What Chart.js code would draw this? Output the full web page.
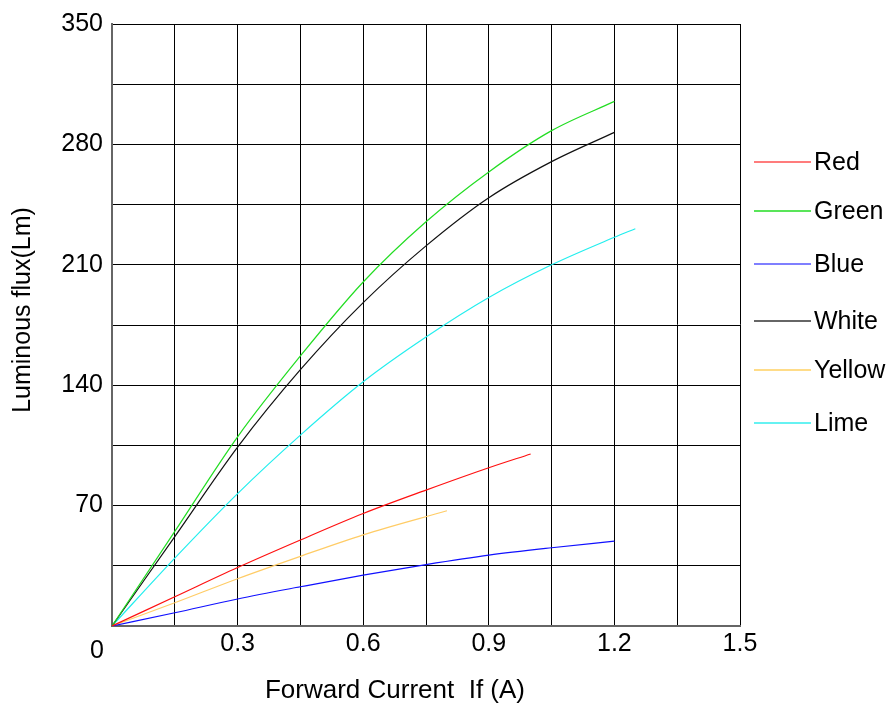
<!DOCTYPE html>
<html>
<head>
<meta charset="utf-8">
<script src="https://cdn.jsdelivr.net/npm/chart.js@4/dist/chart.umd.min.js"></script>
<style>
  html, body { margin: 0; padding: 0; background: #fff; }
  #wrap { width: 895px; height: 709px; }
</style>
</head>
<body>
<div id="wrap"><canvas id="c" width="895" height="709"></canvas></div>
<script>
// ---- Data ----
const seriesNames = ['Red', 'Green', 'Blue', 'White', 'Yellow', 'Lime'];

const redCurrent    = [0, 0.15, 0.3, 0.45, 0.6, 0.75, 0.9, 1.0];
const redFlux       = [0, 17, 34, 50, 65.4, 79, 92, 100];

const greenCurrent  = [0, 0.15, 0.3, 0.45, 0.6, 0.75, 0.9, 1.05, 1.2];
const greenFlux     = [0, 55, 110, 157, 200, 235, 264, 288, 305];

const blueCurrent   = [0, 0.15, 0.3, 0.45, 0.6, 0.75, 0.9, 1.05, 1.2];
const blueFlux      = [0, 7.7, 15.7, 22.8, 29.6, 35.7, 41.2, 45.5, 49.3];

const whiteCurrent  = [0, 0.15, 0.3, 0.45, 0.6, 0.75, 0.9, 1.05, 1.2];
const whiteFlux     = [0, 52, 104, 149, 188, 221, 249, 270, 287];

const yellowCurrent = [0, 0.15, 0.3, 0.45, 0.6, 0.8];
const yellowFlux    = [0, 13.5, 27.5, 40.5, 53, 67];

const limeCurrent   = [0, 0.15, 0.3, 0.45, 0.6, 0.75, 0.9, 1.05, 1.2, 1.25];
const limeFlux      = [0, 39.5, 77, 111, 142, 168, 191, 210, 226, 231];

const xTickLabels = ['0.3', '0.6', '0.9', '1.2', '1.5'];
const yTickLabels = ['70', '140', '210', '280', '350'];

const xTitle = 'Forward Current  If (A)';
const yTitle = 'Luminous flux(Lm)';

// ---- Helpers ----
function pts(xs, ys) { return xs.map((x, i) => ({ x: x, y: ys[i] })); }

const FONT = "'Liberation Sans', Arial, sans-serif";

const lineColors   = ['#ff1010', '#22dd22', '#1010ff', '#111111', '#ffcc66', '#22eeee'];
const legendColors = ['#ff5050', '#22dd22', '#5555ff', '#333333', '#ffd060', '#33eeee'];
const legendY      = [162, 211, 264, 321, 370, 423];

const dataSets = [
  pts(redCurrent, redFlux),
  pts(greenCurrent, greenFlux),
  pts(blueCurrent, blueFlux),
  pts(whiteCurrent, whiteFlux),
  pts(yellowCurrent, yellowFlux),
  pts(limeCurrent, limeFlux)
];

const datasets = seriesNames.map((n, i) => ({
  label: n,
  data: dataSets[i],
  borderColor: lineColors[i],
  backgroundColor: lineColors[i],
  borderWidth: 1.2,
  pointRadius: 0,
  fill: false,
  cubicInterpolationMode: 'monotone'
}));

const extras = {
  id: 'extras',
  afterDraw(chart) {
    const ctx = chart.ctx;
    ctx.save();
    ctx.fillStyle = '#000';
    // axis titles
    ctx.textAlign = 'center';
    ctx.textBaseline = 'middle';
    ctx.font = '26px ' + FONT;
    ctx.fillText(xTitle, 395, 691);
    ctx.save();
    ctx.font = '25px ' + FONT;
    ctx.translate(23, 310);
    ctx.rotate(-Math.PI / 2);
    ctx.fillText(yTitle, 0, 0);
    ctx.restore();
    // origin label
    ctx.font = '25px ' + FONT;
    ctx.fillText('0', 97, 651);
    // legend
    ctx.font = '25px ' + FONT;
    ctx.textAlign = 'left';
    chart.data.datasets.forEach((ds, i) => {
      const y = legendY[i];
      ctx.strokeStyle = legendColors[i];
      ctx.lineWidth = 1.5;
      ctx.beginPath();
      ctx.moveTo(754, y);
      ctx.lineTo(811, y);
      ctx.stroke();
      ctx.fillStyle = '#000';
      ctx.fillText(ds.label, 814, y + 1);
    });
    ctx.restore();
  }
};

new Chart(document.getElementById('c'), {
  type: 'line',
  data: { datasets: datasets },
  options: {
    responsive: false,
    animation: false,
    devicePixelRatio: 1,
    layout: { padding: { left: 0, right: 155, top: 23, bottom: 0 } },
    plugins: { legend: { display: false }, tooltip: { enabled: false } },
    scales: {
      x: {
        type: 'linear',
        min: 0, max: 1.5,
        afterFit(scale) { scale.height = 83; },
        ticks: {
          stepSize: 0.15,
          autoSkip: false,
          maxRotation: 0,
          padding: 3,
          color: '#000',
          font: { family: FONT, size: 25 },
          callback(v) {
            const r = Math.round(v / 0.3);
            if (r > 0 && Math.abs(v - r * 0.3) < 1e-6) return xTickLabels[r - 1];
            return '';
          }
        },
        grid: { color: '#000', lineWidth: 1, drawTicks: false },
        border: { color: '#666', width: 2 }
      },
      y: {
        type: 'linear',
        min: 0, max: 350,
        afterFit(scale) { scale.width = 112; },
        ticks: {
          stepSize: 35,
          autoSkip: false,
          padding: 9,
          color: '#000',
          font: { family: FONT, size: 25 },
          callback(v) {
            const r = Math.round(v / 70);
            if (r > 0 && Math.abs(v - r * 70) < 1e-6) return yTickLabels[r - 1];
            return '';
          }
        },
        grid: { color: '#000', lineWidth: 1, drawTicks: false },
        border: { color: '#666', width: 2 }
      }
    }
  },
  plugins: [extras]
});
</script>
</body>
</html>
